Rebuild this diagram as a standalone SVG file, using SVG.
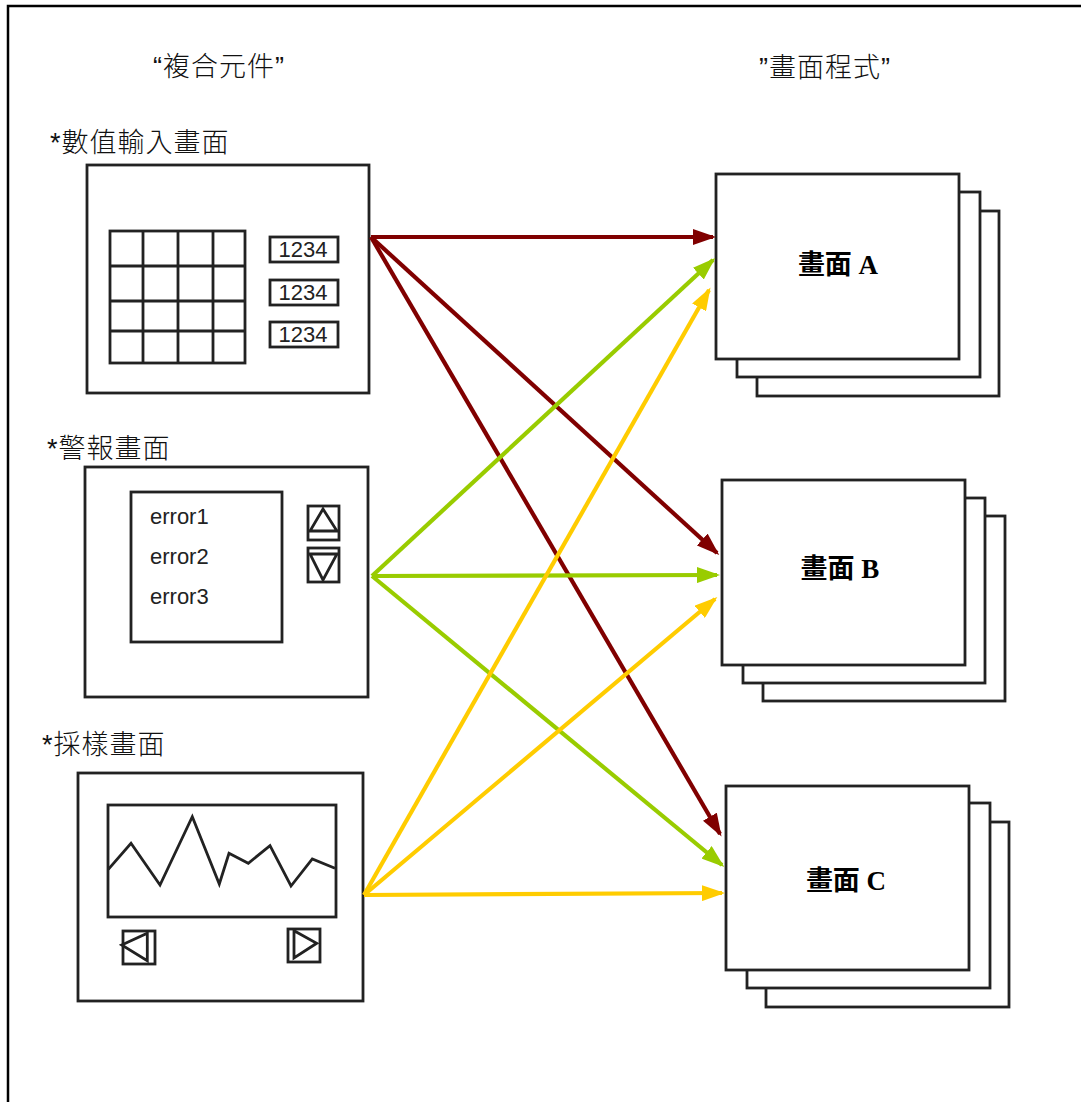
<svg xmlns="http://www.w3.org/2000/svg" width="1081" height="1102" viewBox="0 0 1081 1102">
<style>
.box{fill:#fff;stroke:#222;stroke-width:2.8}
.ln{fill:none;stroke:#222;stroke-width:2.8}
.lbl{font-family:"Liberation Sans","Noto Sans CJK TC",sans-serif;font-size:27px;font-weight:300;letter-spacing:1px;fill:#111}
.num{font-family:"Liberation Sans",Arial,sans-serif;font-size:22px;fill:#222}
.scr{font-family:"Liberation Serif","Noto Sans CJK TC",serif;font-size:27px;font-weight:bold;fill:#000;text-anchor:middle}
.r{stroke:#800000;stroke-width:4.2;fill:none}
.g{stroke:#99cc00;stroke-width:4.2;fill:none}
.y{stroke:#ffcc00;stroke-width:4.2;fill:none}
</style>
<defs>
<marker id="mr" viewBox="0 0 23 16" refX="20" refY="8" markerWidth="23" markerHeight="16" markerUnits="userSpaceOnUse" orient="auto"><path d="M0,0 L23,8 L0,16 z" fill="#800000"/></marker>
<marker id="mg" viewBox="0 0 23 16" refX="20" refY="8" markerWidth="23" markerHeight="16" markerUnits="userSpaceOnUse" orient="auto"><path d="M0,0 L23,8 L0,16 z" fill="#99cc00"/></marker>
<marker id="my" viewBox="0 0 23 16" refX="20" refY="8" markerWidth="23" markerHeight="16" markerUnits="userSpaceOnUse" orient="auto"><path d="M0,0 L23,8 L0,16 z" fill="#ffcc00"/></marker>
</defs>
<rect x="0" y="0" width="1081" height="1102" fill="#fff"/>
<rect x="8" y="6" width="1100" height="1120" fill="none" stroke="#000" stroke-width="2.5"/>
<text class="lbl" x="153" y="76">“複合元件”</text>
<text class="lbl" x="759" y="77">”畫面程式”</text>

<g id="numeric-panel">
<text class="lbl" x="50" y="152">*數值輸入畫面</text>
<rect class="box" x="87" y="165" width="282" height="228"/>
<rect class="ln" x="110" y="231" width="135" height="132"/>
<path class="ln" d="M143,231V363M178,231V363M213,231V363M110,266H245M110,301H245M110,331H245"/>
<rect class="box" x="270" y="237" width="68" height="25"/>
<rect class="box" x="270" y="280" width="68" height="25"/>
<rect class="box" x="270" y="322" width="68" height="25"/>
<text class="num" x="303" y="257" text-anchor="middle">1234</text>
<text class="num" x="303" y="300" text-anchor="middle">1234</text>
<text class="num" x="303" y="342" text-anchor="middle">1234</text>
</g>

<g id="alarm-panel">
<text class="lbl" x="47" y="458">*警報畫面</text>
<rect class="box" x="85" y="467" width="283" height="230"/>
<rect class="box" x="131" y="492" width="151" height="150"/>
<text class="num" x="150" y="524">error1</text>
<text class="num" x="150" y="564">error2</text>
<text class="num" x="150" y="604">error3</text>
<rect class="box" x="308" y="506" width="31" height="34"/>
<path class="ln" d="M323,509L310,531H337Z M308,531H339"/>
<rect class="box" x="308" y="548" width="31" height="34"/>
<path class="ln" d="M310,554H337L323,580Z M308,554H339"/>
</g>

<g id="sampling-panel">
<text class="lbl" x="42" y="754">*採樣畫面</text>
<rect class="box" x="78" y="773" width="285" height="228"/>
<rect class="box" x="108" y="805" width="228" height="112"/>
<polyline class="ln" points="108.3,869.3 131,843.3 160,885 192.3,816.7 219.3,884 229,853.3 248.3,863.3 270,845.7 291,886 312.3,859 335,868.3"/>
<rect class="box" x="123" y="931" width="32" height="33"/>
<path class="ln" d="M121.7,945L147.3,933.3V960.7Z"/>
<rect class="box" x="288" y="929" width="32" height="33"/>
<path class="ln" d="M294,930.7V958L316.7,943.3Z"/>
</g>

<g id="screen-a">
<rect class="box" x="757" y="211" width="242" height="185"/>
<rect class="box" x="737" y="192" width="243" height="185"/>
<rect class="box" x="716" y="174" width="243" height="185"/>
<text class="scr" x="838" y="274">畫面 A</text>
</g>

<g id="screen-b">
<rect class="box" x="763" y="516" width="242" height="185"/>
<rect class="box" x="743" y="498" width="242" height="185"/>
<rect class="box" x="722" y="480" width="243" height="185"/>
<text class="scr" x="840" y="578">畫面 B</text>
</g>

<g id="screen-c">
<rect class="box" x="766" y="822" width="243" height="185"/>
<rect class="box" x="747" y="803" width="243" height="185"/>
<rect class="box" x="726" y="786" width="243" height="184"/>
<text class="scr" x="846" y="890">畫面 C</text>
</g>

<g id="connectors">
<line class="r" x1="371" y1="237" x2="713" y2="237" marker-end="url(#mr)"/>
<line class="r" x1="371" y1="237" x2="717" y2="553" marker-end="url(#mr)"/>
<line class="r" x1="371" y1="237" x2="720" y2="834" marker-end="url(#mr)"/>
<line class="g" x1="372" y1="576" x2="713" y2="260" marker-end="url(#mg)"/>
<line class="g" x1="372" y1="576" x2="717" y2="575" marker-end="url(#mg)"/>
<line class="g" x1="372" y1="576" x2="722" y2="865" marker-end="url(#mg)"/>
<line class="y" x1="364" y1="895" x2="709" y2="290" marker-end="url(#my)"/>
<line class="y" x1="364" y1="895" x2="715" y2="599" marker-end="url(#my)"/>
<line class="y" x1="364" y1="895" x2="722" y2="893" marker-end="url(#my)"/>
</g>
</svg>
